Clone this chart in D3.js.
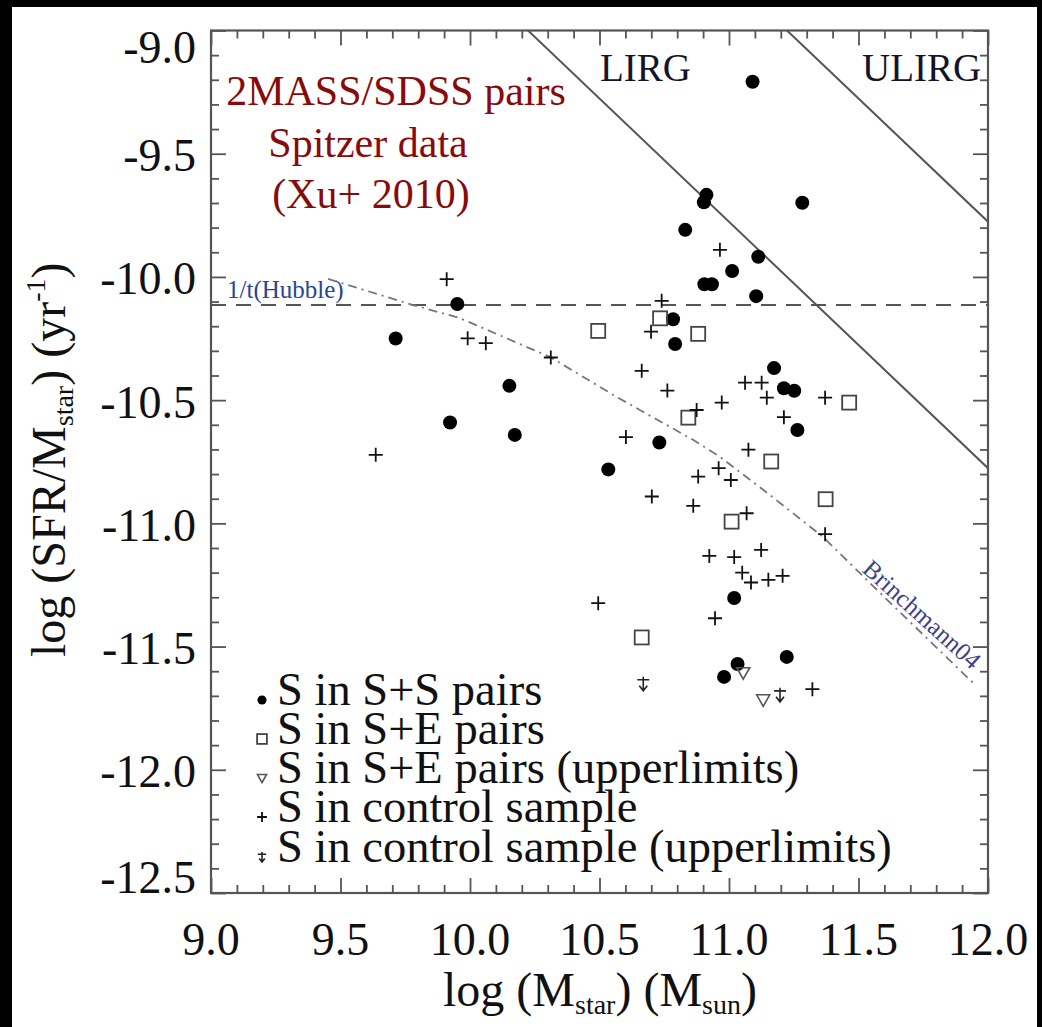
<!DOCTYPE html>
<html>
<head>
<meta charset="utf-8">
<script src="https://cdn.jsdelivr.net/npm/d3@7"></script>
<style>
  html, body { margin: 0; padding: 0; background: #000; }
  svg { display: block; }
  text { font-family: "Liberation Serif", "Times New Roman", serif; }
</style>
</head>
<body>
<svg id="chart" width="1042" height="1027"></svg>
<script>
// ---- data: log stellar mass vs log specific SFR ----
const ssPairs = [ // S in S+S pairs
  [11.091, -9.208], [11.283, -9.699], [10.913, -9.667], [10.903, -9.697],
  [10.831, -9.809], [11.113, -9.918], [11.012, -9.976], [10.905, -10.030],
  [10.934, -10.030], [11.105, -10.078], [9.951, -10.110], [9.713, -10.250],
  [10.152, -10.442], [9.923, -10.591], [10.173, -10.641], [10.534, -10.781],
  [10.784, -10.172], [10.792, -10.272], [10.731, -10.672], [11.174, -10.370],
  [11.212, -10.452], [11.252, -10.462], [11.264, -10.621], [11.020, -11.303],
  [11.223, -11.542], [11.033, -11.571], [10.981, -11.623]
];
const sePairs = [ // S in S+E pairs
  [10.495, -10.219], [10.734, -10.168], [10.881, -10.231], [10.843, -10.571],
  [11.464, -10.510], [11.163, -10.749], [11.373, -10.902], [11.010, -10.993],
  [10.663, -11.463]
];
const seUpper = [ // S in S+E pairs, upper limits
  [11.055, -11.606], [11.132, -11.716]
];
const control = [ // S in control sample
  [9.910, -10.009], [9.991, -10.249], [10.061, -10.269], [10.312, -10.327],
  [9.636, -10.722], [10.965, -9.890], [10.740, -10.097], [10.699, -10.222],
  [10.663, -10.381], [10.762, -10.461], [10.972, -10.510], [10.875, -10.540],
  [11.062, -10.429], [11.126, -10.429], [11.146, -10.490], [11.371, -10.490],
  [11.212, -10.569], [10.602, -10.650], [11.075, -10.701], [10.960, -10.776],
  [10.881, -10.810], [11.007, -10.824], [10.702, -10.891], [10.862, -10.929],
  [11.068, -10.959], [11.371, -11.044], [10.924, -11.132], [11.020, -11.137],
  [11.124, -11.108], [11.051, -11.200], [11.085, -11.240], [11.152, -11.229],
  [11.207, -11.213], [10.495, -11.324], [10.946, -11.385], [11.322, -11.673]
];
const controlUpper = [ // S in control sample, upper limits
  [10.669, -11.651], [11.197, -11.696]
];

// Brinchmann et al. (2004) sSFR-mass relation
const brinchmann = [
  [9.452, -10.008], [9.780, -10.114], [9.961, -10.167], [10.309, -10.325],
  [10.568, -10.488], [10.861, -10.661], [10.965, -10.730], [11.147, -10.876],
  [11.363, -11.055], [11.571, -11.270], [11.942, -11.647]
];

// 1/t(Hubble) level and infrared-luminosity SFR limits (log SFR, Msun/yr)
const hubbleLevel = -10.114;
const irNames = ["LIRG", "ULIRG"];
const irLogSFR = [1.224, 2.224];

// axes
const xDomain = [9, 12];
const yDomain = [-9, -12.5];
const xTickValues = [9.0, 9.5, 10.0, 10.5, 11.0, 11.5, 12.0];
const xTickLabels = ["9.0", "9.5", "10.0", "10.5", "11.0", "11.5", "12.0"];
const yTickValues = [-9.0, -9.5, -10.0, -10.5, -11.0, -11.5, -12.0, -12.5];
const yTickLabels = ["-9.0", "-9.5", "-10.0", "-10.5", "-11.0", "-11.5", "-12.0", "-12.5"];

const legendLabels = [
  "S in S+S pairs",
  "S in S+E pairs",
  "S in S+E pairs (upperlimits)",
  "S in control sample",
  "S in control sample (upperlimits)"
];
const titleLines = ["2MASS/SDSS pairs", "Spitzer data", "(Xu+ 2010)"];

// ---- layout ----
const svg = d3.select("#chart");
const L = 211, R = 988, T = 30.5, B = 893;
const x = d3.scaleLinear().domain(xDomain).range([L, R]);
const y = d3.scaleLinear().domain(yDomain).range([T, B]);
const frameColor = "#555";
const serif = '"Liberation Serif", "Times New Roman", serif';

// white page inside the black border
svg.append("rect").attr("x", 12).attr("y", 7).attr("width", 1025).attr("height", 1020).attr("fill", "#fff");

svg.append("clipPath").attr("id", "plotClip")
  .append("rect").attr("x", L).attr("y", T).attr("width", R - L).attr("height", B - T);

// ---- ticks on all four sides, pointing inward ----
const xMinor = d3.range(90, 121).map(v => v / 10).filter(v => !xTickValues.some(m => Math.abs(m - v) < 1e-6));
const yMinor = d3.range(-125, -89).map(v => v / 10).filter(v => !yTickValues.some(m => Math.abs(m - v) < 1e-6));

function tickGroup(axis, tx, ty) {
  const g = svg.append("g").attr("transform", `translate(${tx},${ty})`).call(axis);
  g.select(".domain").remove();
  g.selectAll("line").attr("stroke", frameColor).attr("stroke-width", 1.8);
  g.selectAll("text").remove();
  return g;
}
[[xTickValues, 15], [xMinor, 8]].forEach(([vals, len]) => {
  tickGroup(d3.axisBottom(x).tickValues(vals).tickSize(-len), 0, B);
  tickGroup(d3.axisTop(x).tickValues(vals).tickSize(-len), 0, T);
});
[[yTickValues, 15], [yMinor, 8]].forEach(([vals, len]) => {
  tickGroup(d3.axisLeft(y).tickValues(vals).tickSize(-len), L, 0);
  tickGroup(d3.axisRight(y).tickValues(vals).tickSize(-len), R, 0);
});

// ---- tick labels ----
svg.append("g").selectAll("text").data(xTickValues).join("text")
  .attr("x", d => x(d)).attr("y", 955)
  .attr("text-anchor", "middle").attr("font-size", 46).attr("fill", "#111")
  .text((d, i) => xTickLabels[i]);

const digitH = 31;
svg.append("g").selectAll("text").data(yTickValues).join("text")
  .attr("x", 196)
  .attr("y", d => {
    let c = y(d) + 2;
    c = Math.max(c, T + 1 + digitH / 2);
    c = Math.min(c, B - digitH / 2);
    return c + digitH / 2;
  })
  .attr("text-anchor", "end").attr("font-size", 46).attr("fill", "#111")
  .text((d, i) => yTickLabels[i]);

// ---- axis titles ----
const xt = svg.append("text").attr("x", 443).attr("y", 1006)
  .attr("font-size", 48).attr("fill", "#111");
xt.append("tspan").text("log (M");
xt.append("tspan").attr("font-size", 28).attr("dy", 8).text("star");
xt.append("tspan").attr("dy", -8).text(") (M");
xt.append("tspan").attr("font-size", 28).attr("dy", 8).text("sun");
xt.append("tspan").attr("dy", -8).text(")");

const yt = svg.append("text").attr("transform", "translate(65,657) rotate(-90)")
  .attr("font-size", 48).attr("fill", "#111");
yt.append("tspan").text("log (SFR/M");
yt.append("tspan").attr("font-size", 28).attr("dy", 8).text("star");
yt.append("tspan").attr("dy", -8).text(") (yr");
yt.append("tspan").attr("font-size", 28).attr("dy", -20).text("-1");
yt.append("tspan").attr("dy", 20).text(")");

// ---- reference lines ----
const plot = svg.append("g").attr("clip-path", "url(#plotClip)");

plot.append("line")
  .attr("x1", x(xDomain[0])).attr("x2", x(xDomain[1]))
  .attr("y1", y(hubbleLevel)).attr("y2", y(hubbleLevel))
  .attr("stroke", "#555").attr("stroke-width", 2).attr("stroke-dasharray", "15,10");

irLogSFR.forEach(c => {
  plot.append("line")
    .attr("x1", x(xDomain[0])).attr("y1", y(c - xDomain[0]))
    .attr("x2", x(xDomain[1])).attr("y2", y(c - xDomain[1]))
    .attr("stroke", "#555").attr("stroke-width", 2);
});

plot.append("path").datum(brinchmann)
  .attr("d", d3.line().x(d => x(d[0])).y(d => y(d[1])))
  .attr("fill", "none").attr("stroke", "#777").attr("stroke-width", 1.8)
  .attr("stroke-dasharray", "9,5,2,5");

// ---- line labels ----
svg.append("text").attr("x", 600).attr("y", 81).attr("font-size", 39).attr("fill", "#141428").text(irNames[0]);
svg.append("text").attr("x", 862).attr("y", 81).attr("font-size", 39).attr("fill", "#141428").text(irNames[1]);
svg.append("text").attr("x", 227).attr("y", 298).attr("font-size", 25).attr("fill", "#2a4595").text("1/t(Hubble)");
svg.append("text").attr("transform", "translate(861,571) rotate(42)")
  .attr("font-size", 25).attr("fill", "#40408a").text("Brinchmann04");

// ---- title block ----
const titleX = [396, 368, 371];
const titleY = [105, 157, 208];
svg.append("g").selectAll("text").data(titleLines).join("text")
  .attr("x", (d, i) => titleX[i]).attr("y", (d, i) => titleY[i])
  .attr("text-anchor", "middle").attr("font-size", 42).attr("fill", "#880a0a")
  .text(d => d);

// ---- symbols ----
const sym = {
  circle: (g, s) => g.append("circle").attr("r", 7 * s).attr("fill", "#000"),
  square: (g, s) => g.append("rect").attr("x", -7 * s).attr("y", -7 * s)
    .attr("width", 14 * s).attr("height", 14 * s)
    .attr("fill", "none").attr("stroke", "#444").attr("stroke-width", 1.8),
  triangle: (g, s) => g.append("path")
    .attr("d", `M${-6.5 * s},${-5 * s}L${6.5 * s},${-5 * s}L0,${6.5 * s}Z`)
    .attr("fill", "none").attr("stroke", "#555").attr("stroke-width", 1.6),
  plus: (g, s) => g.append("path")
    .attr("d", `M${-7 * s},0H${7 * s}M0,${-7 * s}V${7 * s}`)
    .attr("fill", "none").attr("stroke", "#111").attr("stroke-width", 1.8),
  plusUpper: (g, s) => g.append("path")
    .attr("d", `M${-6 * s},${-4 * s}H${6 * s}M0,${-7 * s}V${7 * s}M${-4 * s},${2 * s}L0,${7 * s}L${4 * s},${2 * s}`)
    .attr("fill", "none").attr("stroke", "#222").attr("stroke-width", 1.6)
};

const series = [
  [ssPairs, "circle"],
  [sePairs, "square"],
  [seUpper, "triangle"],
  [control, "plus"],
  [controlUpper, "plusUpper"]
];

series.forEach(([data, kind]) => {
  const g = svg.append("g");
  data.forEach(d => {
    const p = g.append("g").attr("transform", `translate(${x(d[0])},${y(d[1])})`);
    sym[kind](p, 1);
  });
});

// ---- legend ----
const legendBase = [705, 744, 783, 822, 862];
const legend = svg.append("g");
series.forEach(([, kind], i) => {
  const p = legend.append("g").attr("transform", `translate(262,${legendBase[i] - 5})`);
  sym[kind](p, kind === "circle" ? 0.65 : 0.7);
  legend.append("text").attr("x", 277).attr("y", legendBase[i])
    .attr("font-size", 46.5).attr("fill", "#111").text(legendLabels[i]);
});

// ---- frame ----
svg.append("rect").attr("x", L).attr("y", T).attr("width", R - L).attr("height", B - T)
  .attr("fill", "none").attr("stroke", frameColor).attr("stroke-width", 2.2);
</script>
</body>
</html>
